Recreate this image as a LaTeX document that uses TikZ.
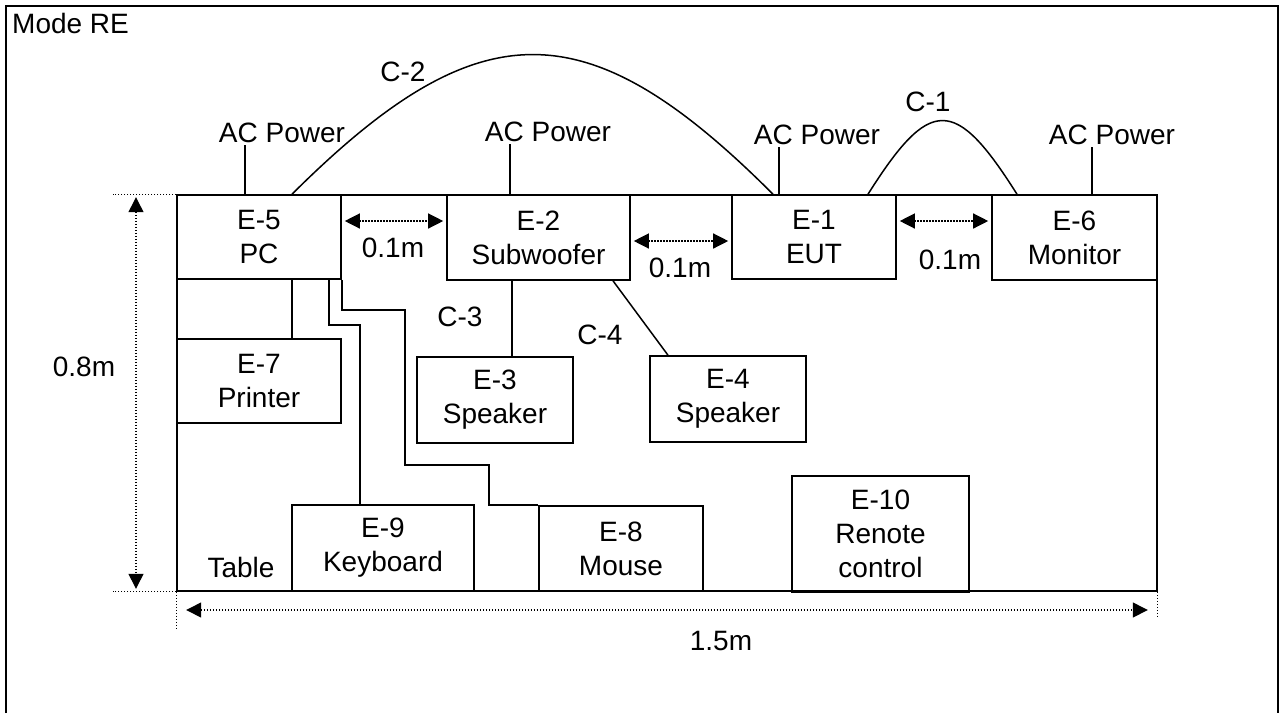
\documentclass[tikz,border=0pt]{standalone}
\usepackage{fontspec}
\setmainfont{Liberation Sans}
\usetikzlibrary{arrows.meta}
\tikzset{
  Dev/.style  = {draw, line width=1.6pt, align=center, inner sep=0pt,
                 font=\fontsize{28}{34}\selectfont},
  Lbl/.style  = {inner sep=2pt, font=\fontsize{28}{34}\selectfont},
  Wire/.style = {line width=1.5pt},
  Ext/.style  = {line width=1.3pt, dash pattern=on 1.5pt off 1.5pt},
  Dim/.style  = {Ext, {Triangle[length=15pt,width=15pt]}-{Triangle[length=15pt,width=15pt]},
                 shorten <=3pt, shorten >=3pt},
}

\begin{document}
\begin{tikzpicture}[x=1pt, y=-1pt]
\useasboundingbox (0,0) rectangle (1283,713);

% ======================= frame and table =================================
\draw[line width=2.5pt] (6,713) -- (6,6) -- (1278,6) -- (1278,713);
\node[Lbl, anchor=base west] (mode) at (10,33) {Mode RE};
\node[draw, line width=1.6pt, minimum width=980, minimum height=396, inner sep=0pt]
  (tbl) at (667,393) {};
\node[Lbl] (tbllbl) at (241,567) {Table};

% ======================= equipment =======================================
% name / centre x / centre y / width / height / text
\foreach \nm/\x/\y/\w/\h/\txt in {
    pc/259/237/164/84/{E-5\\PC},
    sub/538.5/237.5/183/85/{E-2\\Subwoofer},
    eut/814/237/164/84/{E-1\\EUT},
    mon/1074.5/237.5/165/85/{E-6\\Monitor},
    prn/259/381/164/84/{E-7\\Printer},
    spk3/495/400/156/86/{E-3\\Speaker},
    spk4/728/399/156/86/{E-4\\Speaker},
    kbd/383/548/182/86/{E-9\\Keyboard},
    mouse/621/548.5/164/85/{E-8\\Mouse},
    rc/880.5/534/177/116/{E-10\\Renote\\control}}
  \node[Dev, minimum width=\w, minimum height=\h] (\nm) at (\x,\y) {\txt};

% ======================= power and cables ================================
\node[Lbl] (acpc)  at (282,133)  {AC Power};
\node[Lbl] (acsub) at (548,132)  {AC Power};
\node[Lbl] (aceut) at (817,135)  {AC Power};
\node[Lbl] (acmon) at (1112,135) {AC Power};
\draw[Wire] (acpc.south -| 245,0)   -- (pc.north -| 245,0);
\draw[Wire] (acsub.south -| 510,0)  -- (sub.north -| 510,0);
\draw[Wire] (aceut.south -| 779,0)  -- (eut.north -| 779,0);
\draw[Wire] (acmon.south -| 1092,0) -- (mon.north -| 1092,0);

\node[Lbl] (c1) at (928,102) {C-1};
\node[Lbl] (c2) at (403,72)  {C-2};
\node[Lbl] (c3) at (460,317) {C-3};
\node[Lbl] (c4) at (600,335) {C-4};
\draw[Wire] (pc.north -| 292,0) .. controls (479,8) and (587,8) .. (eut.north -| 773,0);
\draw[Wire] (eut.north -| 868,0) .. controls (930,96) and (955,96) .. (mon.north -| 1017,0);
\draw[Wire] (sub.south -| 512,0) -- (spk3.north -| 512,0);
\draw[Wire] (sub.south -| 613,0) -- (spk4.north -| 668,0);
% PC peripherals
\draw[Wire] (pc.south -| 292,0) -- (prn.north -| 292,0);
\draw[Wire] (pc.south -| 329,0) |- (360,325) -- (kbd.north -| 360,0);
\draw[Wire] (pc.south east) |- (405,310) |- (489,465) |- (mouse.north west);

% ======================= dimensions ======================================
\draw[Dim] (pc.east |- 0,221)  -- (sub.west |- 0,221);
\draw[Dim] (sub.east |- 0,241) -- (eut.west |- 0,241);
\draw[Dim] (eut.east |- 0,221) -- (mon.west |- 0,221);
\node[Lbl] (gap1) at (393,248) {0.1m};
\node[Lbl] (gap2) at (680,268) {0.1m};
\node[Lbl] (gap3) at (950,260) {0.1m};

\draw[Ext] (tbl.north west) -- (tbl.north west -| 113,0);
\draw[Ext] (tbl.south west) -- (tbl.south west -| 113,0);
\draw[Ext] (tbl.south west) -- (tbl.south west |- 0,629);
\draw[Ext] (tbl.south east) -- (tbl.south east |- 0,616);
\draw[Dim] (tbl.north west -| 136,0) -- (tbl.south west -| 136,0);
\draw[Dim, shorten <=10pt, shorten >=10pt] (tbl.south west |- 0,610) -- (tbl.south east |- 0,610);
\node[Lbl] (height) at (84,367)  {0.8m};
\node[Lbl] (width)  at (721,641) {1.5m};

\end{tikzpicture}
\end{document}
